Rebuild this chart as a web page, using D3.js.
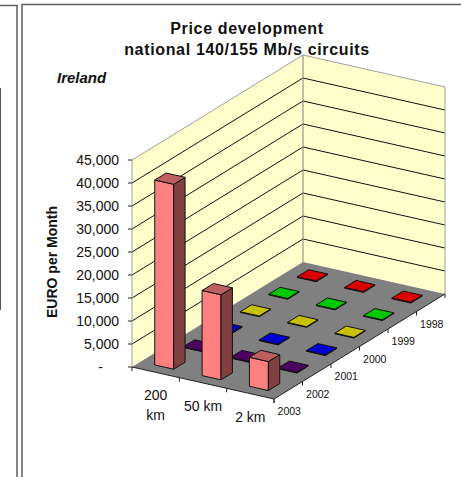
<!DOCTYPE html>
<html><head><meta charset="utf-8">
<script src="https://cdn.jsdelivr.net/npm/d3@7/dist/d3.min.js"></script>
<style>html,body{margin:0;padding:0;background:#fff}svg{display:block}text{font-family:"Liberation Sans",Arial,sans-serif;fill:#111}</style>
</head><body><svg id="c" width="461" height="477"></svg>
<script>
const titleLines = ["Price development", "national 140/155 Mb/s circuits"];
const countryLabel = "Ireland";
const yAxisLabel = "EURO per Month";
const categories = [["200", "km"], ["50 km"], ["2 km"]];
const years = ["2003", "2002", "2001", "2000", "1999", "1998"];
const yearColors = ["#ff8080", "#4c0060", "#0000d0", "#c8c000", "#00c800", "#d80000"];
const values2003 = [40200, 18500, 6300];
const values2002 = [150, 150, 150];
const values2001 = [150, 150, 150];
const values2000 = [150, 150, 150];
const values1999 = [150, 150, 150];
const values1998 = [150, 150, 150];
const series = [values2003, values2002, values2001, values2000, values1999, values1998];
const yTicks = [0, 5000, 10000, 15000, 20000, 25000, 30000, 35000, 40000, 45000];

const svg = d3.select("#c");

// oblique projection: u along the category axis, v along the year axis, value upward
const org = [132, 367], uVec = [142, 32], vVec = [171, -105];
const h = d3.scaleLinear().domain([0, 45000]).range([0, 207]);
const catIdx = categories.map((d, i) => i), yrIdx = years.map((d, i) => i);
const uS = d3.scaleBand().domain(catIdx).range([0, 1]).paddingInner(0.6).paddingOuter(0.3);
const vS = d3.scaleBand().domain(yrIdx).range([0, 1]).paddingInner(0.6).paddingOuter(0.3);
const uStep = d3.scalePoint().domain(d3.range(categories.length + 1)).range([0, 1]);
const vStep = d3.scalePoint().domain(d3.range(years.length + 1)).range([0, 1]);
const P = (u, v, val) => [org[0] + u * uVec[0] + v * vVec[0], org[1] + u * uVec[1] + v * vVec[1] - h(val)];
const lineGen = d3.line();
const poly = pts => lineGen(pts) + "Z";

// panel frames
const frame = svg.append("g").attr("fill", "none").attr("stroke", "#5f5f5f").attr("stroke-width", 1.5);
frame.append("path").attr("d", "M0,5.5H17V477");
frame.append("path").attr("d", "M22,477V4.5H461");
svg.append("path").attr("d", "M0.5,88V310").attr("stroke", "#555").attr("fill", "none");

// walls and floor
const maxV = 45000;
const walls = svg.append("g");
walls.append("path").attr("d", poly([P(0,0,0), P(0,1,0), P(0,1,maxV), P(0,0,maxV)])).attr("fill", "#ffffcc");
walls.append("path").attr("d", poly([P(0,1,0), P(1,1,0), P(1,1,maxV), P(0,1,maxV)])).attr("fill", "#ffffcc");
walls.append("path").attr("d", poly([P(0,0,0), P(1,0,0), P(1,1,0), P(0,1,0)])).attr("fill", "#808080");

// gridlines
svg.append("g").selectAll("path").data(yTicks.slice(1, -1)).join("path")
  .attr("d", t => lineGen([P(0,0,t), P(0,1,t), P(1,1,t)]))
  .attr("fill", "none").attr("stroke", "#111").attr("stroke-width", 1);

// wall outline
svg.append("path").attr("d", lineGen([P(0,0,0), P(0,0,maxV), P(0,1,maxV), P(1,1,maxV), P(1,1,0)]))
  .attr("fill", "none").attr("stroke", "#a0a0a0").attr("stroke-width", 1);
svg.append("path").attr("d", lineGen([P(0,1,0), P(0,1,maxV)])).attr("fill", "none").attr("stroke", "#808080");

// axes
const axes = svg.append("g").attr("stroke", "#222").attr("fill", "none");
axes.append("path").attr("d", lineGen([P(0,0,0), P(1,0,0), P(1,1,0)]));
axes.selectAll(".yt").data(yTicks).join("path").attr("class", "yt")
  .attr("d", t => { const p = P(0,0,t); return lineGen([[p[0]-4, p[1]], p]); });
axes.selectAll(".ct").data(d3.range(categories.length + 1)).join("path").attr("class", "ct")
  .attr("d", i => { const p = P(uStep(i),0,0); return lineGen([p, [p[0], p[1]+4]]); });
axes.selectAll(".vt").data(d3.range(years.length + 1)).join("path").attr("class", "vt")
  .attr("d", i => { const p = P(1,vStep(i),0); return lineGen([p, [p[0], p[1]+4]]); });

// bars, back to front
const shade = (c, k) => { const r = d3.rgb(c); return d3.rgb(r.r*k, r.g*k, r.b*k).formatHex(); };
const bars = svg.append("g").attr("stroke", "#111").attr("stroke-width", 1).attr("stroke-linejoin", "round");
yrIdx.slice().reverse().forEach(yi => {
  catIdx.forEach(ci => {
    const v = series[yi][ci], col = yearColors[yi];
    const u0 = uS(ci), u1 = u0 + uS.bandwidth(), v0 = vS(yi), v1 = v0 + vS.bandwidth();
    bars.append("path").attr("fill", col).attr("d", poly([P(u0,v0,0), P(u1,v0,0), P(u1,v0,v), P(u0,v0,v)]));
    bars.append("path").attr("fill", shade(col, 0.5)).attr("d", poly([P(u1,v0,0), P(u1,v1,0), P(u1,v1,v), P(u1,v0,v)]));
    bars.append("path").attr("fill", yi === 0 ? shade(col, 0.75) : col).attr("d", poly([P(u0,v0,v), P(u1,v0,v), P(u1,v1,v), P(u0,v1,v)]));
  });
});

// y tick labels
svg.append("g").attr("font-size", 14).attr("text-anchor", "end").selectAll("text").data(yTicks).join("text")
  .attr("x", t => t === 0 ? 103 : 119).attr("y", t => P(0,0,t)[1]).attr("dy", "0.36em")
  .text(t => t === 0 ? "-" : d3.format(",")(t));

// category labels
const catG = svg.append("g").attr("font-size", 14).attr("text-anchor", "middle");
categories.forEach((lines, i) => {
  const p = P(uS(i) + uS.bandwidth()/2, 0, 0);
  lines.forEach((l, j) => catG.append("text").attr("x", p[0]).attr("y", p[1] + 23 + j*20).attr("dy", "0.36em").text(l));
});

// year labels
svg.append("g").attr("font-size", 10.5).attr("text-anchor", "middle").selectAll("text").data(years).join("text")
  .attr("x", (d, i) => P(1, vS(i) + vS.bandwidth()/2, 0)[0] + 1)
  .attr("y", (d, i) => P(1, vS(i) + vS.bandwidth()/2, 0)[1] + 21).attr("dy", "0.36em").text(d => d);

// titles
svg.append("g").attr("font-size", 16).attr("font-weight", "bold").attr("text-anchor", "middle").selectAll("text").data(titleLines).join("text")
  .attr("x", 247).attr("y", (d, i) => 28 + i*21).attr("dy", "0.36em").attr("letter-spacing", 0.66).text(d => d);
svg.append("text").attr("x", 57).attr("y", 78).attr("dy", "0.36em").attr("font-size", 15).attr("font-weight", "bold").attr("font-style", "italic").text(countryLabel);
svg.append("text").attr("transform", "translate(52,262) rotate(-90)").attr("dy", "0.36em").attr("text-anchor", "middle").attr("font-size", 14).attr("font-weight", "bold").text(yAxisLabel);
</script></body></html>
